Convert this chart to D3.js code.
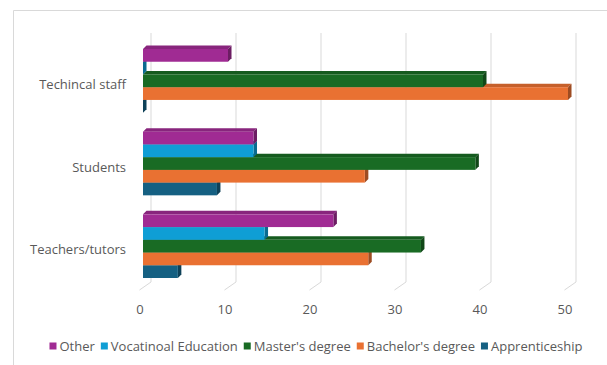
<!DOCTYPE html>
<html>
<head>
<meta charset="utf-8">
<script src="https://cdn.jsdelivr.net/npm/d3@7"></script>
<style>
  html, body { margin: 0; padding: 0; background: #fff; }
  svg { display: block; font-family: "Open Sans", "Noto Sans", sans-serif; }
</style>
</head>
<body>
<svg id="chart" width="607" height="365"></svg>
<script>
// Share of each group by highest qualification (%)
const categories = ["Techincal staff", "Students", "Teachers/tutors"];
const seriesNames = ["Other", "Vocatinoal Education", "Master's degree", "Bachelor's degree", "Apprenticeship"];
const seriesColors = ["#A02B93", "#0F9ED5", "#196B24", "#E97132", "#156082"];
const valuesOther      = [10, 13.0, 22.4];
const valuesVocational = [0, 13.0, 14.3];
const valuesMasters    = [40, 39.1, 32.7];
const valuesBachelors  = [50, 26.1, 26.5];
const valuesApprentice = [0, 8.7, 4.1];
const tickValues = [0, 10, 20, 30, 40, 50];

const seriesValues = [valuesOther, valuesVocational, valuesMasters, valuesBachelors, valuesApprentice];

const svg = d3.select("#chart");
const textColor = "#595959";
const gridColor = "#d9d9d9";
const fontSize = 13;

// chart frame
svg.append("path")
  .attr("d", "M13.5,365 L13.5,10.5 L607,10.5")
  .attr("fill", "none")
  .attr("stroke", gridColor)
  .attr("stroke-width", 1);

// value scale on the front plane of the bars
const x = d3.scaleLinear().domain([0, 50]).range([143, 568]);
const backShift = 8;      // wall behind the bars
const floorShift = -3.5;  // front edge of the floor
const wallTop = 33, wallBottom = 282, floorFront = 290;

// 3D bar depth offsets
const dx = 3.5, dy = 3.5;

// gridlines on the back wall, running down to the floor
svg.append("g").selectAll("path")
  .data(tickValues)
  .join("path")
  .attr("d", t => `M${x(t) + backShift},${wallTop} L${x(t) + backShift},${wallBottom} L${x(t) + floorShift},${floorFront}`)
  .attr("fill", "none")
  .attr("stroke", gridColor)
  .attr("stroke-width", 1);

// tick labels
svg.append("g").selectAll("text")
  .data(tickValues)
  .join("text")
  .attr("x", t => x(t) - 3)
  .attr("y", 309)
  .attr("dy", "0.35em")
  .attr("text-anchor", "middle")
  .attr("font-size", fontSize)
  .attr("fill", textColor)
  .text(t => t);

// category bands
const y = d3.scaleBand()
  .domain(categories)
  .range([39.5, 287.5])
  .paddingInner(0.23)
  .paddingOuter(0.115);

const yInner = d3.scaleBand()
  .domain(seriesNames)
  .range([0, y.bandwidth()]);

// category labels
svg.append("g").selectAll("text")
  .data(categories)
  .join("text")
  .attr("x", 126)
  .attr("y", c => y(c) + y.bandwidth() / 2 + 3.5)
  .attr("dy", "0.35em")
  .attr("text-anchor", "end")
  .attr("font-size", fontSize)
  .attr("fill", textColor)
  .text(c => c);

// bar records; drawn lowest series first so upper bars overlap the top faces below
const bars = [];
categories.forEach((c, ci) => {
  seriesNames.forEach((s, si) => {
    bars.push({ cat: c, series: s, color: seriesColors[si], value: seriesValues[si][ci], order: si });
  });
});
bars.sort((a, b) => b.order - a.order);

const barG = svg.append("g");
bars.forEach(b => {
  const x0 = x(0), x1 = x(b.value);
  const y0 = y(b.cat) + yInner(b.series);
  const y1 = y0 + yInner.bandwidth();
  const base = d3.color(b.color);
  const g = barG.append("g");
  // top face
  g.append("path")
    .attr("d", `M${x0},${y0} L${x0 + dx},${y0 - dy} L${x1 + dx},${y0 - dy} L${x1},${y0} Z`)
    .attr("fill", base.darker(0.45));
  // side face
  g.append("path")
    .attr("d", `M${x1},${y0} L${x1 + dx},${y0 - dy} L${x1 + dx},${y1 - dy} L${x1},${y1} Z`)
    .attr("fill", base.darker(1.1));
  // front face
  g.append("rect")
    .attr("x", x0)
    .attr("y", y0)
    .attr("width", Math.max(0, x1 - x0))
    .attr("height", y1 - y0)
    .attr("fill", base);
});

// legend
const legend = svg.append("g");
const items = legend.selectAll("g")
  .data(seriesNames)
  .join("g");
items.append("rect")
  .attr("width", 7)
  .attr("height", 7)
  .attr("y", -3.5)
  .attr("fill", (d, i) => seriesColors[i]);
items.append("text")
  .attr("x", 10)
  .attr("dy", "0.35em")
  .attr("font-size", fontSize)
  .attr("fill", textColor)
  .text(d => d);

let offset = 0;
const widths = [];
items.each(function () {
  const w = 10 + this.querySelector("text").getComputedTextLength();
  widths.push(w);
});
const gap = 6;
const total = d3.sum(widths) + gap * (widths.length - 1);
const startX = 316 - total / 2;
items.attr("transform", (d, i) => {
  const tx = startX + offset;
  offset += widths[i] + gap;
  return `translate(${tx},346)`;
});
</script>
</body>
</html>
